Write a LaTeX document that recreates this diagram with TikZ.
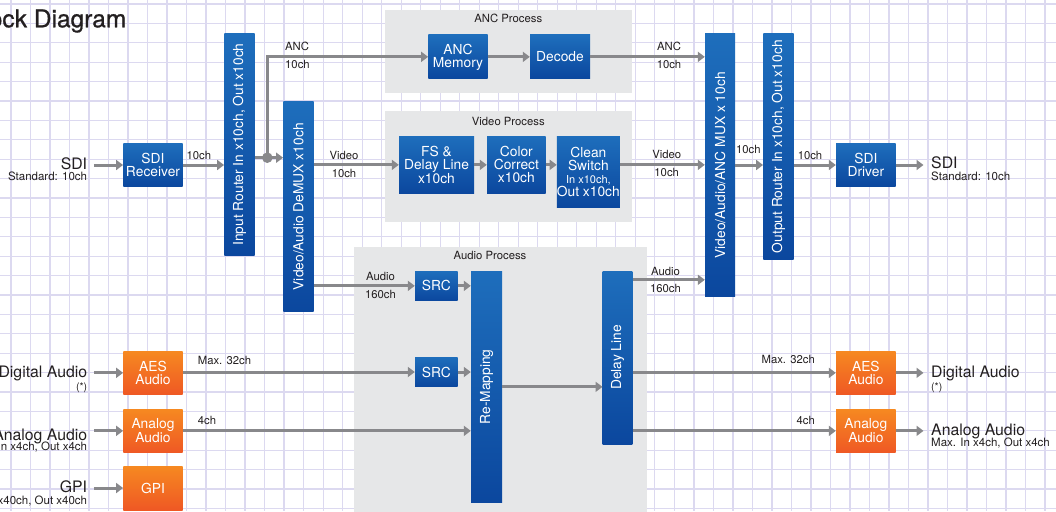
\documentclass[tikz,border=0pt]{standalone}
\usepackage{fontspec}
\setmainfont{TeX Gyre Heros}
\newfontfamily\titlefont{TeX Gyre Heros}[FakeBold=0.8]
\usepackage{graphicx}
\usetikzlibrary{arrows.meta}
\definecolor{bluetop}{RGB}{30,110,188}
\definecolor{bluebot}{RGB}{11,71,158}
\definecolor{orgtop}{RGB}{246,137,33}
\definecolor{orgbot}{RGB}{239,88,36}
\definecolor{conn}{RGB}{136,136,139}
\definecolor{panel}{RGB}{230,231,232}
\definecolor{gridc}{RGB}{220,217,240}
\definecolor{txt}{RGB}{35,31,32}
\begin{document}
\begin{tikzpicture}[x=1pt,y=-1pt,
  blk/.style={top color=bluetop,bottom color=bluebot,text=white,align=center,inner sep=0pt,font=\fontsize{13.8}{13}\selectfont},
  orng/.style={blk,top color=orgtop,bottom color=orgbot},
  arr/.style={draw=conn,line width=3pt,-{Triangle[length=7pt,width=10pt]}},
  ln/.style={draw=conn,line width=3pt},
  small/.style={text=txt,inner sep=0pt,font=\fontsize{11.3}{13}\selectfont},
  big/.style={text=txt,inner sep=0pt,font=\fontsize{15.8}{17}\selectfont},
  sub/.style={text=txt,inner sep=0pt,font=\fontsize{11.5}{13}\selectfont},
  star/.style={text=txt,inner sep=0pt,font=\fontsize{10.5}{12}\selectfont},
  gridline/.style={draw=gridc,line width=1.3pt}
]
\useasboundingbox (0,0) rectangle (1056,511);
\clip (0,0) rectangle (1056,511);
\fill[white] (0,0) rectangle (1056,511);
% grid
\foreach \k in {0,...,53} \draw[gridline] ({11+19.51*\k},0) -- ++(0,511);
\foreach \k in {0,...,26} \draw[gridline] (0,{4+19.4*\k}) -- ++(1056,0);
% panels
\fill[panel] (385,10) rectangle (631.7,93.3);
\fill[panel] (385,111) rectangle (631.7,221.7);
\fill[panel] (354,246.7) rectangle (647.3,520);
\node[small,anchor=base] (tanc) at (508.3,22.7) {ANC Process};
\node[small,anchor=base] (tvid) at (508.3,125) {Video Process};
\node[small,anchor=base] (taud) at (490,259.3) {Audio Process};
% title
\node[anchor=base east,text=txt,inner sep=0pt,font=\titlefont\fontsize{24.5}{26}\selectfont] (title) at (126.5,27.3) {Block Diagram};
% blocks
\node[blk,minimum width=59.4,minimum height=43.4] (rcv) at (153,165) {SDI\\Receiver};
\node[blk,minimum width=30.4,minimum height=221] (ir) at (239.5,144.5) {\rotatebox{90}{Input Router In x10ch, Out x10ch}};
\node[blk,minimum width=30.4,minimum height=210] (dmx) at (298.5,206.7) {\rotatebox{90}{Video/Audio DeMUX x10ch}};
\node[blk,minimum width=59.4,minimum height=43.7] (ancm) at (458,56.85) {ANC\\Memory};
\node[blk,minimum width=60,minimum height=43.7] (dec) at (560,56.85) {Decode};
\node[blk,minimum width=75,minimum height=57.7] (fs) at (436.5,164.85) {FS \&\\Delay Line\\x10ch};
\node[blk,minimum width=58.7,minimum height=57.7] (cc) at (516.35,164.85) {Color\\Correct\\x10ch};
\node[blk,minimum width=58.7,minimum height=71.7] (cs) at (588.35,171.85) {Clean\\Switch\\\fontsize{11}{13.3}\selectfont In x10ch,\\Out x10ch};
\node[blk,minimum width=30,minimum height=262.7] (mux) at (720,165.35) {\rotatebox{90}{Video/Audio/ANC MUX x 10ch}};
\node[blk,minimum width=30.4,minimum height=225.3] (or) at (778.5,146.65) {\rotatebox{90}{Output Router In x10ch, Out x10ch}};
\node[blk,minimum width=59.7,minimum height=43.4] (drv) at (865.85,165) {SDI\\Driver};
\node[blk,minimum width=42.7,minimum height=29.7] (src1) at (436.35,285.85) {SRC};
\node[blk,minimum width=42.7,minimum height=29.4] (src2) at (436.35,372) {SRC};
\node[blk,minimum width=31,minimum height=231.7] (rmp) at (486.5,386.85) {\rotatebox{90}{Re-Mapping}};
\node[blk,minimum width=29.6,minimum height=173] (dly) at (617.5,357.5) {\rotatebox{90}{Delay Line}};
\node[orng,minimum width=59.4,minimum height=43.7] (aesL) at (153,372.85) {AES\\Audio};
\node[orng,minimum width=59.4,minimum height=43.7] (anaL) at (153,430.85) {Analog\\Audio};
\node[orng,minimum width=59.4,minimum height=44] (gpi) at (153,488) {GPI};
\node[orng,minimum width=59.7,minimum height=43.7] (aesR) at (865.85,372.85) {AES\\Audio};
\node[orng,minimum width=59.7,minimum height=43.7] (anaR) at (865.85,430.85) {Analog\\Audio};
% connectors
\coordinate (dot) at (267.3,157.7);
\draw[arr] ([xshift=-29.3pt]rcv.west) -- (rcv.west);
\draw[arr] (rcv.east) -- (rcv.east -| ir.west);
\draw[ln] (ir.east |- dot) -- (dot);
\draw[arr] (dot) -- (dot -| dmx.west);
\draw[arr] (dot) |- (ancm.west);
\fill[conn] (dot) circle (5.3);
\draw[arr] (ancm.east) -- (dec.west);
\draw[arr] (dec.east) -- (dec.east -| mux.west);
\draw[arr] (fs.west -| dmx.east) -- (fs.west);
\draw[arr] (fs.east) -- (cc.west);
\draw[arr] (cc.east) -- (cc.east -| cs.west);
\draw[arr] (cc.east -| cs.east) -- (cc.east -| mux.west);
\draw[arr] (drv.west -| mux.east) -- (drv.west -| or.west);
\draw[arr] (drv.west -| or.east) -- (drv.west);
\draw[arr] (drv.east) -- ([xshift=27.6pt]drv.east);
\draw[arr] (src1.west -| dmx.east) -- (src1.west);
\draw[arr] (src1.east) -- (src1.east -| rmp.west);
\draw[arr] (aesL.east |- src2.west) -- (src2.west);
\draw[arr] (src2.east) -- (src2.east -| rmp.west);
\draw[arr] (anaL.east) -- (anaL.east -| rmp.west);
\draw[arr] (rmp.east) -- (rmp.east -| dly.west);
\draw[arr] ([yshift=-9pt]dly.north east) -- ([yshift=-9pt]dly.north east -| mux.west);
\draw[arr] (aesR.west -| dly.east) -- (aesR.west);
\draw[arr] (anaR.west -| dly.east) -- (anaR.west);
\draw[arr] (aesR.east) -- ([xshift=27.6pt]aesR.east);
\draw[arr] (anaR.east) -- ([xshift=27.6pt]anaR.east);
\draw[arr] ([xshift=-29.3pt]aesL.west) -- (aesL.west);
\draw[arr] ([xshift=-29.3pt]anaL.west) -- (anaL.west);
\draw[arr] ([xshift=-29.3pt]gpi.west) -- (gpi.west);
% connector labels
\node[small,anchor=base] (l1) at (198.8,159.3) {10ch};
\node[small,anchor=base west] (l2) at (285,50) {ANC};
\node[small,anchor=base west] (l3) at (285,68.3) {10ch};
\node[small,anchor=base] (l4) at (344,159.3) {Video};
\node[small,anchor=base] (l5) at (344,177.7) {10ch};
\node[small,anchor=base] (l6) at (669,50) {ANC};
\node[small,anchor=base] (l7) at (669,68.3) {10ch};
\node[small,anchor=base] (l8) at (666.7,158.3) {Video};
\node[small,anchor=base] (l9) at (666.7,176.7) {10ch};
\node[small,anchor=base] (l10) at (748.3,153.3) {10ch};
\node[small,anchor=base] (l11) at (810,159.3) {10ch};
\node[small,anchor=base] (l12) at (665.5,275) {Audio};
\node[small,anchor=base] (l13) at (665.5,292.3) {160ch};
\node[small,anchor=base] (l14) at (380.5,280.3) {Audio};
\node[small,anchor=base] (l15) at (380.5,298.3) {160ch};
\node[small,anchor=base west] (l16) at (197.7,364.3) {Max. 32ch};
\node[small,anchor=base west] (l17) at (197.7,424) {4ch};
\node[small,anchor=base east] (l18) at (815,363.3) {Max. 32ch};
\node[small,anchor=base east] (l19) at (815,424) {4ch};
% side labels
\node[big,anchor=base east] (sdiL) at (87.3,169.3) {SDI};
\node[sub,anchor=base east] (sdiLs) at (87.3,180.7) {Standard: 10ch};
\node[big,anchor=base east] (daL) at (87.3,377) {Digital Audio};
\node[star,anchor=base east] (daLs) at (87.3,390) {(*)};
\node[big,anchor=base east] (aaL) at (87.3,440) {Analog Audio};
\node[sub,anchor=base east] (aaLs) at (87.3,450.7) {Max. In x4ch, Out x4ch};
\node[big,anchor=base east] (gpiL) at (87.3,492.7) {GPI};
\node[sub,anchor=base east] (gpiLs) at (87.3,504) {In x40ch, Out x40ch};
\node[big,anchor=base west] (sdiR) at (931,168.3) {SDI};
\node[sub,anchor=base west] (sdiRs) at (931,180) {Standard: 10ch};
\node[big,anchor=base west] (daR) at (931,377.3) {Digital Audio};
\node[star,anchor=base west] (daRs) at (931,390) {(*)};
\node[big,anchor=base west] (aaR) at (931,435) {Analog Audio};
\node[sub,anchor=base west] (aaRs) at (931,446.7) {Max. In x4ch, Out x4ch};
\end{tikzpicture}
\end{document}
